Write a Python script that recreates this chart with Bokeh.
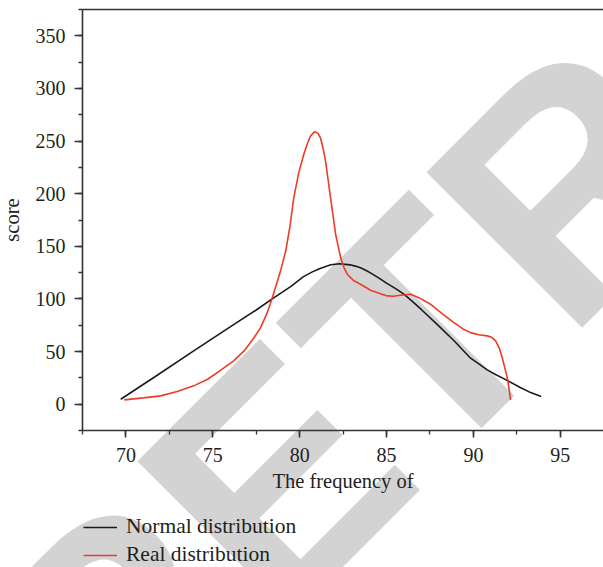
from bokeh.plotting import figure
from bokeh.models import (Range1d, SingleIntervalTicker, LinearAxis, FixedTicker,
                          Legend, LegendItem, Label)
from bokeh.embed import file_html
from bokeh.resources import INLINE

# ---- data ----
normal_x = [69.7, 71.8, 73.9, 76.0, 77.5, 78.4, 79.5, 80.2, 80.7, 81.1, 81.5, 81.8, 82.3,
            82.9, 83.2, 83.5, 83.8, 84.1, 84.5, 85.0, 85.5, 86.0, 86.5, 87.0, 87.9, 88.9,
            89.8, 90.8, 91.3, 91.8, 92.7, 93.3, 93.9]
normal_y = [4.7, 27.5, 50.6, 73.5, 89.5, 99.8, 112.0, 121.0, 125.5, 128.5, 130.8, 132.5,
            133.5, 132.4, 131.2, 129.6, 127.2, 124.5, 120.5, 115.0, 110.0, 104.5, 97.5,
            90.0, 76.0, 60.0, 44.3, 32.6, 28.0, 23.8, 15.8, 11.0, 7.2]

real_x = [69.9, 71.0, 72.0, 72.95, 73.9, 74.7, 75.4, 76.2, 76.8, 77.35, 77.75, 78.1,
          78.4, 78.9, 79.2, 79.45, 79.66, 79.95, 80.24, 80.45, 80.63, 80.87, 81.05, 81.2,
          81.35, 81.49, 81.78, 82.07, 82.36, 82.55, 82.74, 83.1, 83.5, 84.08, 84.65,
          85.04, 85.4, 85.8, 86.38, 86.9, 87.53, 88.2, 88.88, 89.4, 89.84, 90.3, 90.8,
          91.05, 91.28, 91.5, 91.66, 91.8, 91.95, 92.05, 92.14]
real_y = [4.1, 6.0, 7.9, 12.0, 17.4, 23.7, 31.6, 41.1, 50.6, 62.7, 72.8, 85.5,
          99.8, 126.7, 145.7, 170.0, 196.0, 220.0, 237.5, 248.0, 255.0, 259.0, 257.5,
          253.0, 243.0, 231.0, 196.0, 161.5, 139.3, 130.0, 123.5, 117.5, 114.0, 108.3,
          105.0, 102.9, 102.5, 103.5, 104.5, 101.0, 95.0, 86.0, 77.5, 71.5, 68.0, 66.0,
          64.9, 63.5, 60.1, 53.0, 44.3, 35.0, 25.3, 15.0, 4.1]

series_names = ["Normal distribution", "Real distribution"]
x_title = "The frequency of"
y_title = "score"
watermark_text = "RETRACTED"

x_bounds = (67.5, 97.5)
y_bounds = (-25, 375)

SERIF = "Liberation Serif"
AXIS_COLOR = "#333333"
TEXT_COLOR = "#231f20"

# frame covers the whole canvas; axes are pinned with fixed_location
p = figure(width=603, height=567, output_backend="svg", toolbar_location=None,
           x_range=Range1d(62.78, 97.49), y_range=Range1d(-155.2, 383.6),
           min_border=0)
p.grid.visible = False
p.outline_line_color = None
p.background_fill_color = "white"
p.border_fill_color = "white"

xa = p.below[0]
ya = p.left[0]
xa.fixed_location = y_bounds[0]
ya.fixed_location = x_bounds[0]
xa.bounds = x_bounds
ya.bounds = y_bounds
xa.ticker = SingleIntervalTicker(interval=5, num_minor_ticks=2)
ya.ticker = SingleIntervalTicker(interval=50, num_minor_ticks=2)
for ax in (xa, ya):
    ax.axis_line_color = AXIS_COLOR
    ax.axis_line_width = 1.6
    ax.major_tick_line_color = AXIS_COLOR
    ax.major_tick_line_width = 1.6
    ax.minor_tick_line_color = AXIS_COLOR
    ax.minor_tick_line_width = 1.3
    ax.major_tick_in = 0
    ax.major_tick_out = 7
    ax.minor_tick_in = 0
    ax.minor_tick_out = 4
    ax.major_label_text_font = SERIF
    ax.major_label_text_font_size = "20px"
    ax.major_label_text_color = TEXT_COLOR
    ax.axis_label_text_font = SERIF
    ax.axis_label_text_font_size = "20.5px"
    ax.axis_label_text_font_style = "normal"
    ax.axis_label_text_color = TEXT_COLOR
ya.major_tick_out = 8
xa.major_label_standoff = 11
ya.major_label_standoff = 9
xa.axis_label = x_title
xa.axis_label_standoff = 4
ya.axis_label = y_title
ya.axis_label_standoff = 10

# top frame line
top = LinearAxis(ticker=FixedTicker(ticks=[]), major_label_text_font_size="0px",
                 major_tick_out=0, minor_tick_out=0, axis_line_color=AXIS_COLOR,
                 axis_line_width=1.6, fixed_location=y_bounds[1], bounds=x_bounds)
p.add_layout(top, "above")

# watermark behind everything
wm = Label(x=35.5, y=-149.5, x_units="screen", y_units="screen", text=watermark_text,
           angle=45, angle_units="deg", text_font="Liberation Sans",
           text_font_style="bold", text_font_size="320px", text_color="#d3d3d3",
           text_align="left", text_baseline="alphabetic", level="underlay")
p.add_layout(wm)

r1 = p.line(normal_x, normal_y, line_color="#1a1a1a", line_width=1.6)
r2 = p.line(real_x, real_y, line_color="#ef3b24", line_width=1.6)

legend = Legend(items=[LegendItem(label=series_names[0], renderers=[r1]),
                       LegendItem(label=series_names[1], renderers=[r2])],
                location=(83, 0), orientation="vertical",
                label_text_font=SERIF, label_text_font_size="21.5px",
                label_text_color=TEXT_COLOR, glyph_width=34, glyph_height=24,
                label_height=24, label_standoff=9, spacing=3, padding=0, margin=0,
                background_fill_alpha=0, border_line_alpha=0)
p.add_layout(legend)

open("out.html", "w").write(file_html(p, INLINE))
